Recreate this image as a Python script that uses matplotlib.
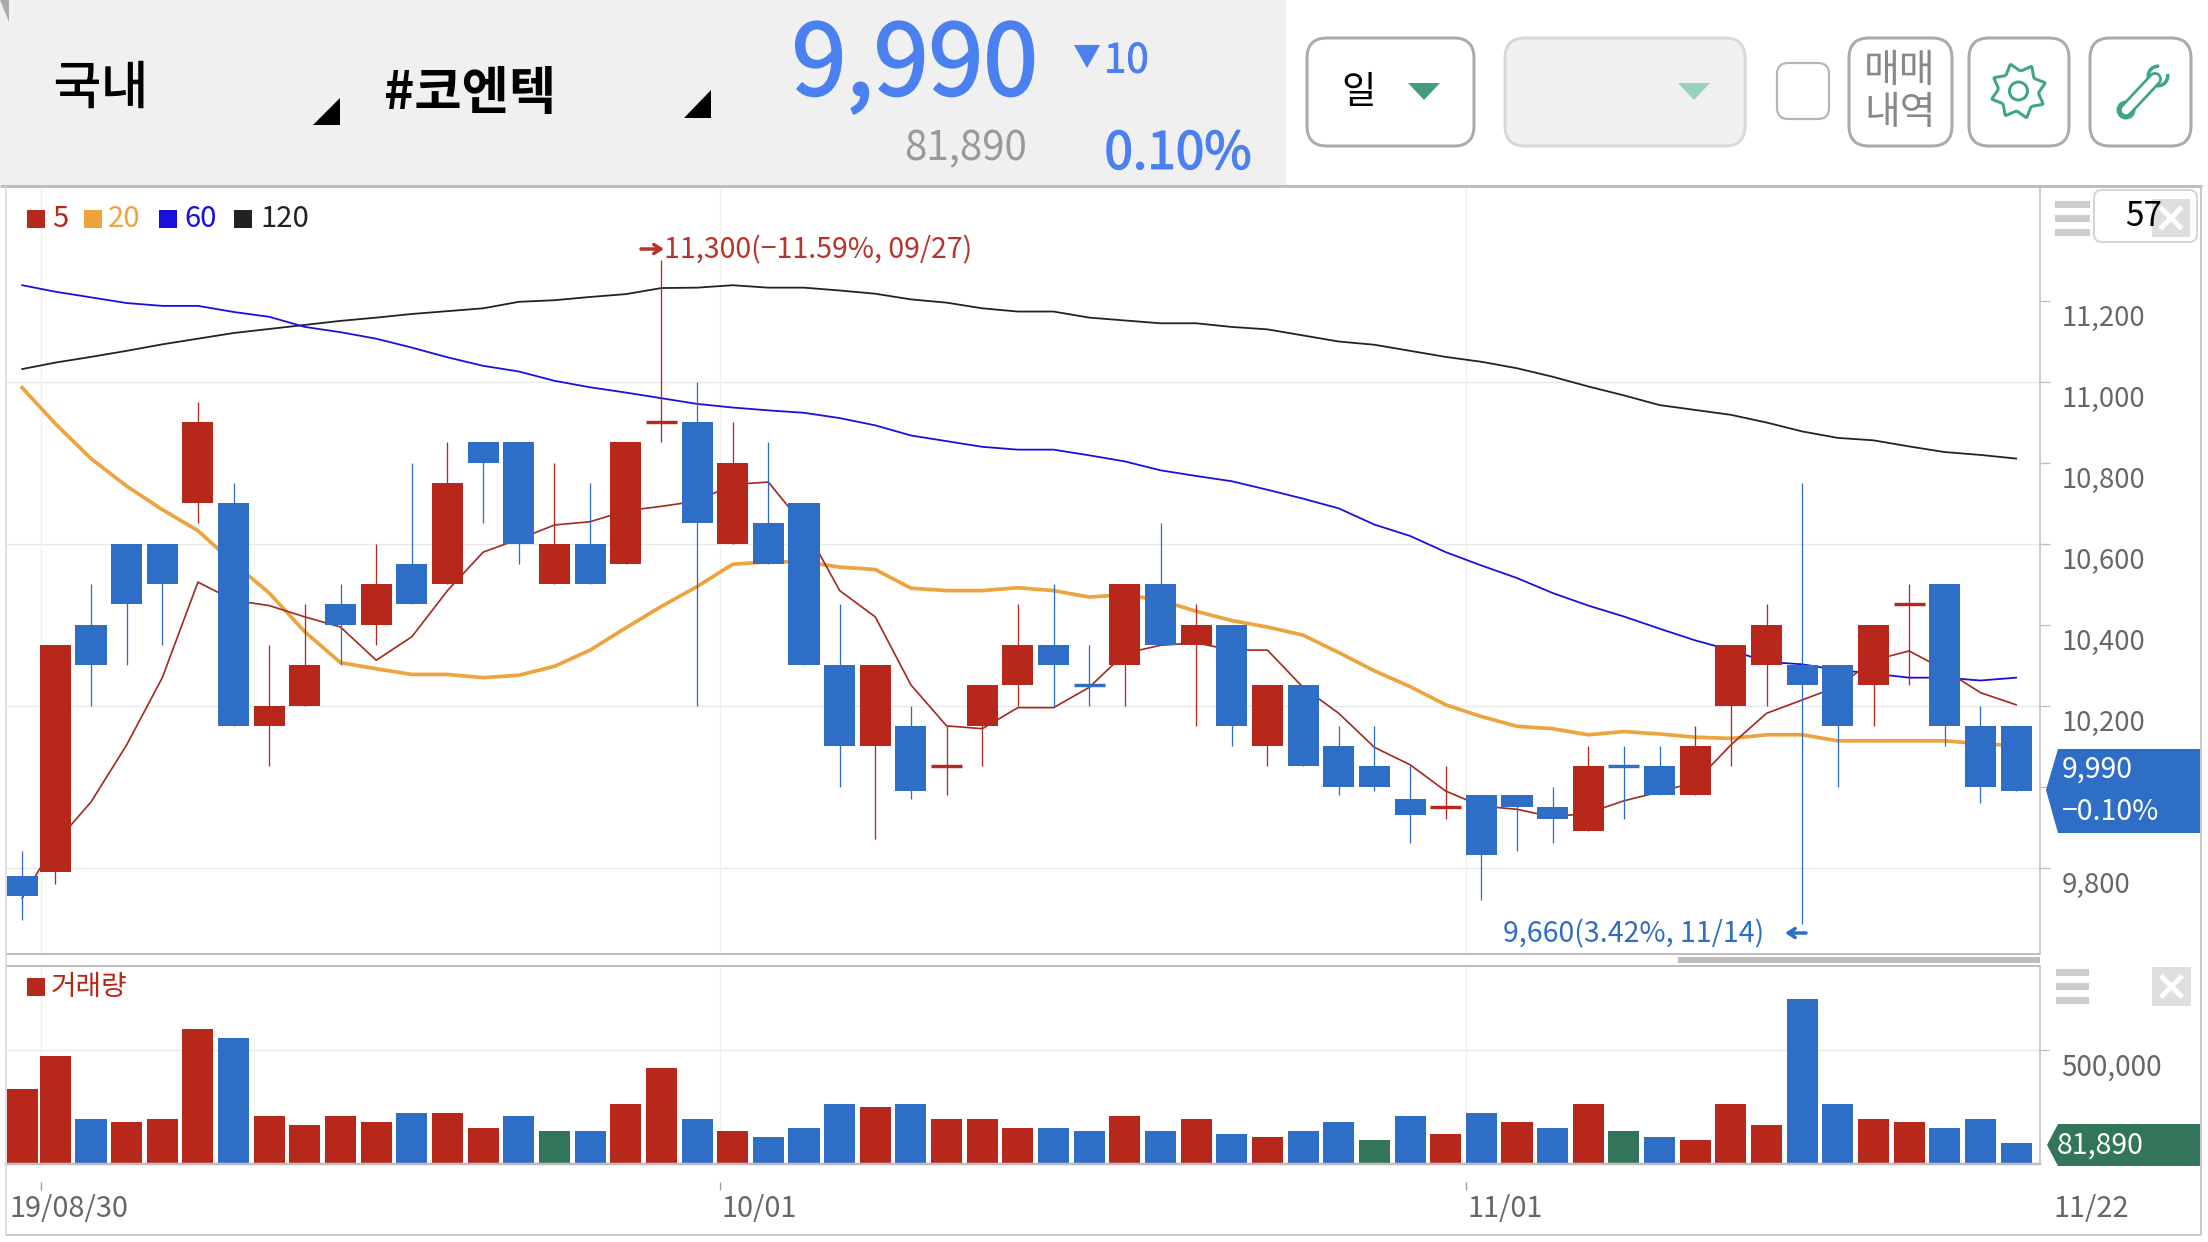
import numpy as np
import matplotlib
matplotlib.use("Agg")
import matplotlib.pyplot as plt
import matplotlib.patheffects as pe
from matplotlib.patches import FancyBboxPatch, Polygon, Rectangle, Circle
from matplotlib.transforms import ScaledTranslation

plt.rcParams['font.family'] = ['Noto Sans CJK KR', 'DejaVu Sans']

body_top = [9780,10350,10400,10600,10600,10900,10700,10200,10300,10450,10500,10550,10750,10850,10850,10600,10600,10850,10900,10900,
            10800,10650,10700,10300,10300,10150,10050,10250,10350,10350,10250,10500,10500,10400,10400,10250,10250,10100,10050,9970,
            9950,9980,9980,9950,10050,10050,10050,10100,10350,10400,10300,10300,10400,10450,10500,10150,10150]
body_bottom = [9730,9790,10300,10450,10500,10700,10150,10150,10200,10400,10400,10450,10500,10800,10600,10500,10500,10550,10900,10650,
               10600,10550,10300,10100,10100,9990,10050,10150,10250,10300,10250,10300,10350,10350,10150,10100,10050,10000,10000,9930,
               9950,9830,9950,9920,9890,10050,9980,9980,10200,10300,10250,10150,10250,10450,10150,10000,9990]
high = [9840,10350,10500,10600,10600,10950,10750,10350,10450,10500,10600,10800,10850,10850,10850,10800,10750,10850,11300,11000,
        10900,10850,10700,10450,10300,10200,10150,10250,10450,10500,10350,10500,10650,10450,10400,10250,10250,10150,10150,10050,
        10050,9980,9980,10000,10100,10100,10100,10150,10350,10450,10750,10300,10400,10500,10500,10200,10150]
low = [9670,9760,10200,10300,10350,10650,10150,10050,10200,10300,10350,10450,10500,10650,10550,10500,10500,10550,10850,10200,
       10600,10550,10300,10000,9870,9970,9980,10050,10200,10200,10200,10200,10350,10150,10100,10050,10050,9980,9990,9860,
       9920,9720,9840,9860,9890,9920,9980,9980,10050,10200,9660,10000,10150,10250,10100,9960,9990]
candle_colour = "brbbbrbrrbrbrbbrbrrbrbbbrbrrrbbrbrbrbbbbrbbbrbbrrrbbrrbbb"

ma5 = [9725,9861,9962,10103,10269,10505,10460,10447,10419,10394,10312,10370,10484,10579,10611,10646,10654,10681,10692,10705,
       10746,10752,10644,10484,10419,10251,10150,10143,10195,10195,10245,10329,10349,10355,10337,10337,10245,10181,10097,10054,
       9989,9952,9944,9925,9935,9965,9987,10011,10103,10181,10214,10247,10312,10335,10288,10232,10202]
ma20 = [10985,10896,10810,10742,10684,10632,10552,10478,10382,10306,10291,10277,10277,10269,10275,10297,10337,10392,10445,10494,
        10549,10555,10555,10542,10536,10490,10484,10484,10491,10484,10468,10474,10460,10433,10410,10394,10374,10331,10286,10247,
        10202,10173,10149,10143,10128,10136,10130,10122,10119,10128,10128,10113,10113,10113,10113,10106,10101]
ma60 = [11238,11222,11208,11194,11187,11187,11172,11160,11135,11122,11106,11084,11060,11039,11025,11002,10986,10973,10959,10945,
        10936,10929,10923,10910,10892,10867,10853,10839,10832,10832,10818,10803,10781,10767,10754,10733,10711,10687,10647,10619,
        10579,10546,10515,10478,10447,10420,10390,10361,10337,10308,10302,10288,10279,10269,10269,10262,10269]
ma120 = [11031,11047,11061,11076,11092,11106,11120,11130,11140,11150,11158,11167,11174,11181,11197,11201,11209,11216,11231,11232,
         11238,11232,11232,11225,11217,11203,11195,11181,11173,11173,11158,11151,11144,11144,11135,11129,11114,11099,11091,11076,
         11061,11049,11033,11012,10988,10966,10942,10930,10918,10899,10877,10861,10855,10840,10826,10819,10810]

volume = [325500,474400,190200,176600,190200,596300,555600,203700,163100,203700,176600,217200,217200,149600,203700,136000,136000,257900,420300,190200,
          136000,109000,149600,257900,244300,257900,190200,190200,149600,149600,136000,203700,136000,190200,122500,109000,136000,176600,95400,203700,
          122500,217200,176600,149600,257900,136000,109000,95400,257900,163100,731600,257900,190200,176600,149600,190200,81890]
volume_colour = "rrbrrrbrrrrbrrbgbrrbrbbbrbrrrbbrbrbrbbgbrbrbrgbrrrbbrrbbb"

price_ticks = [9800,10000,10200,10400,10600,10800,11000,11200]
price_tick_labels = ["9,800","","10,200","10,400","10,600","10,800","11,000","11,200"]
price_grid = [9800,10200,10600,11000]
date_labels = ["19/08/30","10/01","11/01","11/22"]
date_ticks = [0.61,19.64,40.57]
legend_names = ["5","20","60","120"]

W, H = 2208, 1242
RED, BLUE, GREEN = "#B8271B", "#2F6EC6", "#33755A"
C_MA5, C_MA20, C_MA60, C_MA120 = "#A52A20", "#EDA43F", "#1A0FDB", "#222222"
LINE = "#BDBDBD"
TEAL = "#3FA58A"
P = 0.72  # points per pixel at dpi 100

fig = plt.figure(figsize=(W/100, H/100), dpi=100, facecolor="white")

def px_axes(x0, y0, x1, y1, **kw):
    return fig.add_axes([x0/W, 1-y1/H, (x1-x0)/W, (y1-y0)/H], **kw)

X0_PX, STEP_PX = 19.7, 35.65
AX0, AX1 = 6, 2039.5
x_left, x_right = (AX0-X0_PX)/STEP_PX, (AX1-X0_PX)/STEP_PX
xs = np.arange(57.0)
xs[0] = 0.07
body_w = 0.87

# ---- price panel
ax = px_axes(AX0, 186, AX1, 954)
ax.set_xlim(x_left, x_right)
ax.set_ylim(9586.7, 11483)
for s in ax.spines.values():
    s.set_visible(False)
ax.spines['right'].set_visible(True)
ax.spines['right'].set_color(LINE)
ax.spines['right'].set_linewidth(1.5*P)
for v in price_grid:
    ax.axhline(v, color="#E8E8E8", lw=1.3*P, zorder=0)
for v in date_ticks:
    ax.axvline(v, color="#F0F0F0", lw=1.3*P, zorder=0)
ax.plot(xs, ma120, color=C_MA120, lw=1.8*P, zorder=1)
ax.plot(xs, ma60, color=C_MA60, lw=1.8*P, zorder=1)
ax.plot(xs, ma20, color=C_MA20, lw=3.7*P, zorder=1)
ax.plot(xs, ma5, color=C_MA5, lw=1.7*P, zorder=1)
for i in range(57):
    c = RED if candle_colour[i] == 'r' else BLUE
    ax.vlines(xs[i], low[i], high[i], color=c, lw=1.3*P, zorder=2)
    if body_top[i] == body_bottom[i]:
        ax.hlines(body_top[i], xs[i]-body_w/2, xs[i]+body_w/2, color=c, lw=3.4*P, zorder=3)
    else:
        ax.bar(xs[i], body_top[i]-body_bottom[i], bottom=body_bottom[i], width=body_w, color=c, lw=0, zorder=3)
ax.set_xticks([])
ax.yaxis.tick_right()
ax.set_yticks(price_ticks)
ax.set_yticklabels(price_tick_labels)
ax.tick_params(axis='y', length=10*P, width=1.3*P, color=LINE, pad=12*P, labelsize=19.8, labelcolor="#666666")
off = ScaledTranslation(0, -14.5/100, fig.dpi_scale_trans)
for lab in ax.get_yticklabels():
    lab.set_transform(lab.get_transform()+off)
    lab.set_horizontalalignment('left')

# ---- volume panel
base = -14400
axv = px_axes(AX0, 966, AX1, 1164)
axv.set_xlim(x_left, x_right)
axv.set_ylim(base, 500000 + (1050-966)*(500000-base)/(1164-1050))
for s in axv.spines.values():
    s.set_visible(False)
axv.spines['right'].set_visible(True)
axv.spines['right'].set_color(LINE)
axv.spines['right'].set_linewidth(1.5*P)
axv.spines['bottom'].set_visible(True)
axv.spines['bottom'].set_color(LINE)
axv.spines['bottom'].set_linewidth(2.5*P)
cmap = {'r': RED, 'b': BLUE, 'g': GREEN}
axv.axhline(500000, color="#E8E8E8", lw=1.3*P, zorder=0)
for v in date_ticks:
    axv.axvline(v, color="#F0F0F0", lw=1.3*P, zorder=0)
axv.bar(xs, np.array(volume)-base, bottom=base, width=body_w,
        color=[cmap[c] for c in volume_colour], lw=0, zorder=2)
axv.set_xticks([])
axv.yaxis.tick_right()
axv.set_yticks([500000])
axv.set_yticklabels(["500,000"])
axv.tick_params(axis='y', length=9*P, width=1.3*P, color=LINE, pad=13*P, labelsize=20, labelcolor="#666666")
for lab in axv.get_yticklabels():
    lab.set_transform(lab.get_transform()+off)
    lab.set_horizontalalignment('left')

# ---- overlay in pixel coordinates
ov = fig.add_axes([0, 0, 1, 1], zorder=5)
ov.set_xlim(0, W)
ov.set_ylim(H, 0)
ov.axis('off')
ov.patch.set_alpha(0)

def rect(x0, y0, x1, y1, c, **kw):
    ov.add_patch(Rectangle((x0, y0), x1-x0, y1-y0, fc=c, ec='none', **kw))

def rbox(x0, y0, x1, y1, r, fc, ec, lw=3):
    ov.add_patch(FancyBboxPatch((x0+r, y0+r), x1-x0-2*r, y1-y0-2*r, boxstyle=f"round,pad={r},rounding_size={r}",
                                fc=fc, ec=ec, lw=lw*P, mutation_aspect=1))

def tri(pts, c):
    ov.add_patch(Polygon(pts, closed=True, fc=c, ec='none'))

def hline(y, x0, x1, c=LINE, lw=2.5):
    ov.plot([x0, x1], [y, y], color=c, lw=lw*P, solid_capstyle='butt')

def vline(x, y0, y1, c=LINE, lw=1.5):
    ov.plot([x, x], [y0, y1], color=c, lw=lw*P, solid_capstyle='butt')

def heavy(width, colour):
    return [pe.withStroke(linewidth=width, foreground=colour)]

# header
rect(0, 0, 1286, 185, "#F0F0F0")
tri([(0, 0), (9, 0), (9, 22)], "#AAAAAA")
hline(186, 0, 2202, "#BDBDBD", 3)
hline(954, AX0, AX1, "#BDBDBD", 2)
hline(966, AX0, AX1, "#BDBDBD", 2)
hline(1235, AX0, 2201, "#C8C8C8", 2)
vline(AX0, 186, 1235, "#D8D8D8", 1.5)
vline(2201, 186, 1235, "#C8C8C8", 2)

ov.text(101, 89, "국내", fontsize=37, color="black", ha='center', va='center', path_effects=heavy(0.7, "black"))
tri([(340, 98), (340, 125), (313, 125)], "black")
ov.text(384, 94, "#코엔텍", fontsize=37, color="black", ha='left', va='center', fontweight='bold')
tri([(711, 90), (711, 118), (684, 118)], "black")
ov.text(915, 67, "9,990", fontsize=71, color="#4A80F0", ha='center', va='center', path_effects=heavy(1.5, "#4A80F0"))
tri([(1074, 45), (1100, 45), (1087, 68)], "#4A80F0")
ov.text(1104, 61, "10", fontsize=29, color="#4A80F0", ha='left', va='center', path_effects=heavy(0.6, "#4A80F0"))
ov.text(966, 149, "81,890", fontsize=29, color="#999999", ha='center', va='center')
ov.text(1178, 154, "0.10%", fontsize=37, color="#4A80F0", ha='center', va='center', path_effects=heavy(1.0, "#4A80F0"))

# toolbar
rbox(1307, 38, 1474, 146, 20, "white", "#ABABAB")
ov.text(1359, 92, "일", fontsize=27, color="black", ha='center', va='center')
tri([(1408, 83), (1440, 83), (1424, 100)], "#459B80")
rbox(1505, 38, 1745, 146, 20, "#F0F0F0", "#D8D8D8")
tri([(1678, 83), (1710, 83), (1694, 100)], "#98D1C1")
rbox(1777, 63, 1829, 119, 11, "white", "#B5B5B5", 2.2)
rbox(1849, 38, 1952, 146, 20, "white", "#ABABAB")
ov.text(1900, 71, "매매", fontsize=28, color="#888888", ha='center', va='center')
ov.text(1900, 113, "내역", fontsize=28, color="#888888", ha='center', va='center')
rbox(1969, 38, 2069, 146, 20, "white", "#ABABAB")
rbox(2090, 38, 2191, 146, 20, "white", "#ABABAB")

# gear icon
n_teeth = 8
ang = np.linspace(0, 2*np.pi, n_teeth*4, endpoint=False) + np.pi/n_teeth/2
rad = np.tile([20.5, 27.5, 27.5, 20.5], n_teeth)
ang = ang + np.tile([-0.05, 0.08, -0.08, 0.05], n_teeth)
cx, cy = 2018.5, 91
ov.add_patch(Polygon(np.c_[cx+rad*np.cos(ang), cy+rad*np.sin(ang)], closed=True, fc='none', ec=TEAL, lw=3*P, joinstyle='round'))
ov.add_patch(Circle((cx, cy), 9, fc='none', ec=TEAL, lw=3*P))

# wrench icon
ov.plot([2126, 2155], [110, 79], color=TEAL, lw=14*P, solid_capstyle='round')
ov.add_patch(Circle((2158, 76), 11.5, fc=TEAL, ec='none'))
ov.add_patch(Circle((2126, 110), 9.5, fc=TEAL, ec='none'))
ov.plot([2126, 2155], [110, 79], color="white", lw=8.5*P, solid_capstyle='round')
ov.add_patch(Circle((2158, 76), 8, fc="white", ec='none'))
ov.add_patch(Circle((2126, 110), 6, fc="white", ec=TEAL, lw=2*P))
tri([(2158, 76), (2160, 60), (2176, 72)], "white")

# legend of price panel
leg_sq = [27, 84, 159, 234]
leg_txt = [52, 108, 184, 260]
leg_col = [RED, C_MA20, C_MA60, C_MA120]
for name, sq, tx, col in zip(legend_names, leg_sq, leg_txt, leg_col):
    rect(sq, 210, sq+18, 228, col)
    ov.text(tx, 219, name, fontsize=21, color=col, ha='left', va='center')

# extrema
ov.annotate('', xy=(664, 249), xytext=(641, 249), arrowprops=dict(arrowstyle='->,head_width=0.32,head_length=0.5', color="#B8342A", lw=3.5*P, shrinkA=0, shrinkB=0))
ov.text(664, 250, "11,300(−11.59%, 09/27)", fontsize=20.5, color="#B8342A", ha='left', va='center')
ov.text(1503, 934, "9,660(3.42%, 11/14)", fontsize=20.5, color=BLUE, ha='left', va='center')
ov.annotate('', xy=(1785, 933), xytext=(1806, 933), arrowprops=dict(arrowstyle='->,head_width=0.32,head_length=0.5', color=BLUE, lw=3.5*P, shrinkA=0, shrinkB=0))

# price tag and volume tag
tri([(2058, 749), (2200, 749), (2200, 833), (2058, 833), (2046, 790)], BLUE)
ov.text(2062, 770, "9,990", fontsize=20.5, color="white", ha='left', va='center')
ov.text(2062, 812, "−0.10%", fontsize=20.5, color="white", ha='left', va='center')
tri([(2058, 1124), (2201, 1124), (2201, 1166), (2058, 1166), (2047, 1145)], GREEN)
ov.text(2057, 1146, "81,890", fontsize=20.5, color="white", ha='left', va='center')

# scroll bar
rect(1678, 957, 2040, 963, "#BDBDBD")

# hamburger and close buttons
for y0 in (201, 215, 229):
    rect(2055, y0, 2090, y0+7, "#CCCCCC")
rbox(2094, 190, 2197, 242, 8, "white", "#D5D5D5", 2)
ov.text(2144, 217, "57", fontsize=24, color="black", ha='center', va='center')
rect(2152, 199, 2190, 237, "#D9D9D9", alpha=0.85)
for y0 in (969, 983, 997):
    rect(2056, y0, 2089, y0+7, "#CCCCCC")
rect(2152, 967, 2191, 1006, "#DFDFDF")
for bx, by in ((2171, 218), (2171.5, 986.5)):
    ov.plot([bx-9, bx+9], [by-9, by+9], color="white", lw=5*P)
    ov.plot([bx-9, bx+9], [by+9, by-9], color="white", lw=5*P)

# volume legend
rect(27, 978, 45, 996, RED)
ov.text(51, 987, "거래량", fontsize=20, color=RED, ha='left', va='center')

# date ticks and labels
for v in date_ticks:
    xp = X0_PX + STEP_PX*v
    vline(xp, 1182, 1190, "#999999", 1.3)
date_x = [10, 721, 1468, 2053]
for lab, xp in zip(date_labels, date_x):
    ov.text(xp, 1209, lab, fontsize=20.8, color="#666666", ha='left', va='center')

fig.savefig("out.png", dpi=100, facecolor="white")
